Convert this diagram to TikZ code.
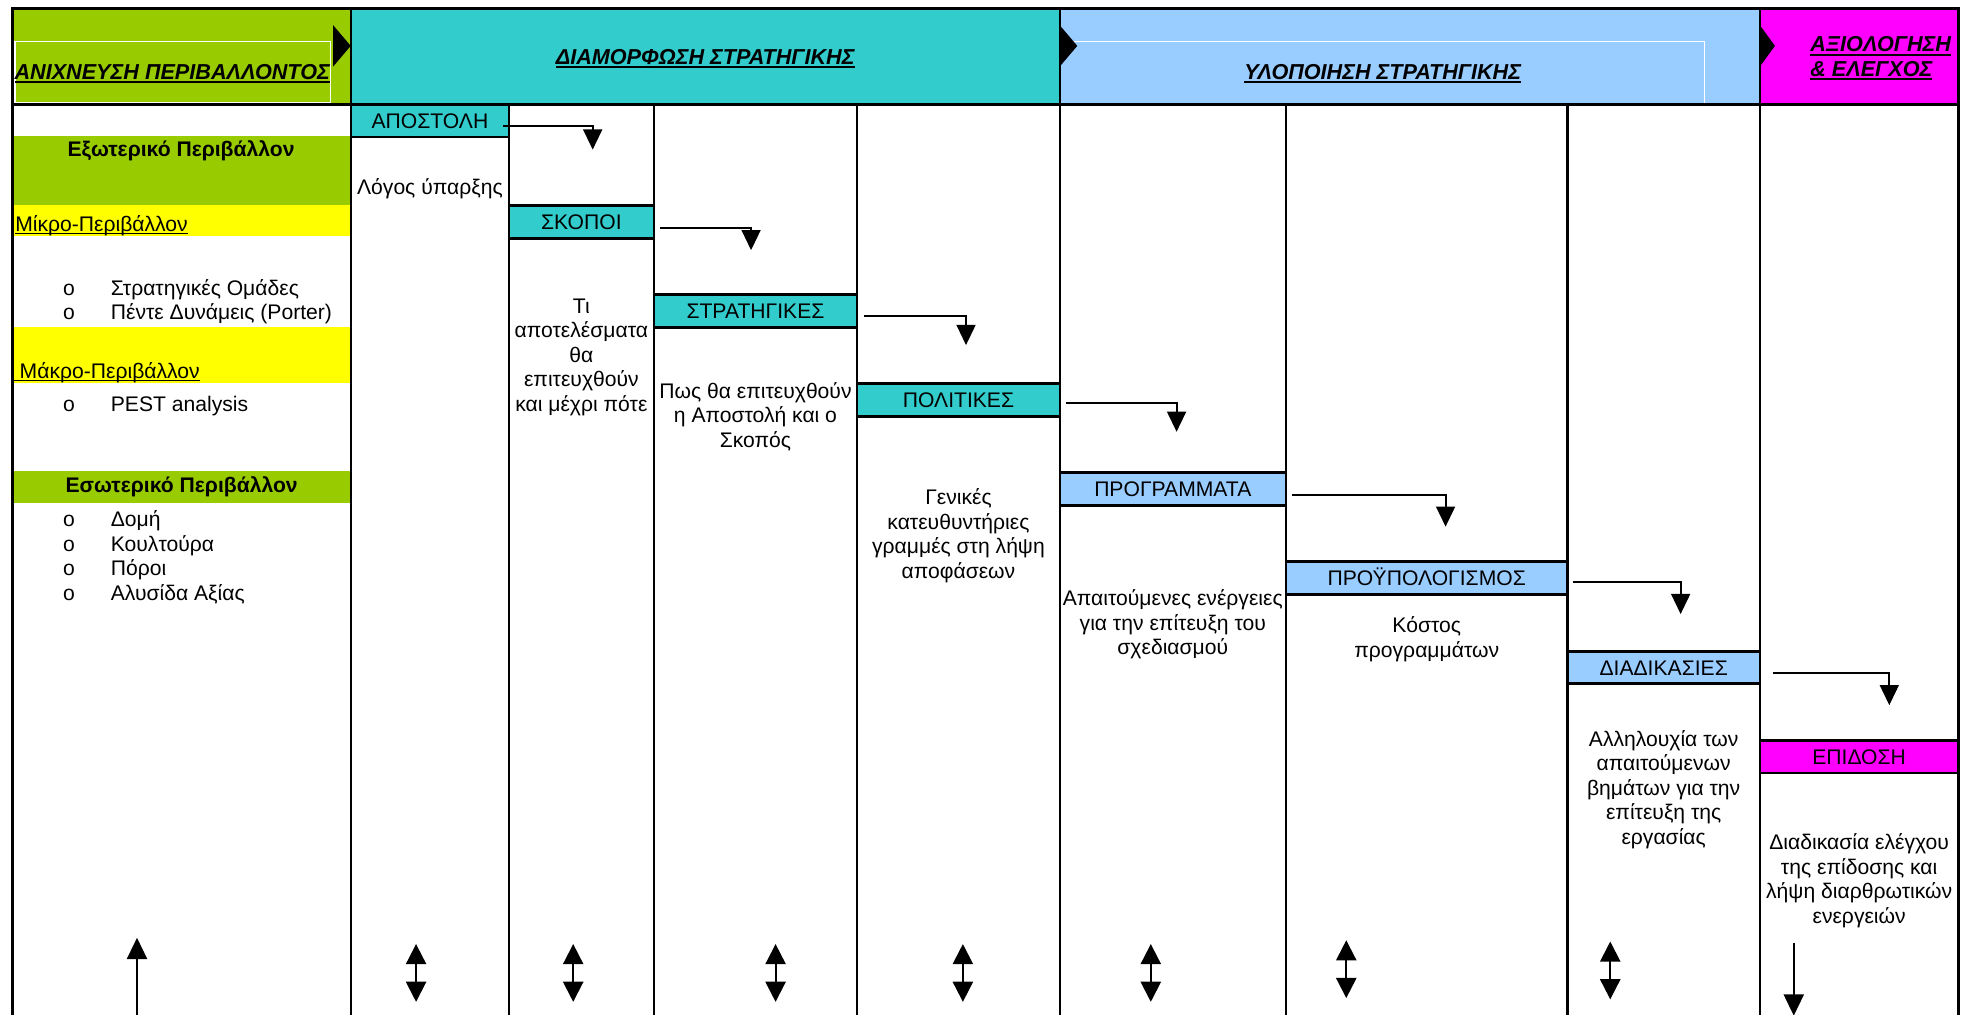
\documentclass[tikz,border=0pt]{standalone}
\usepackage{fontspec}
\setmainfont{Liberation Sans}
\usetikzlibrary{arrows.meta}

\definecolor{envgreen}{HTML}{99CC00}
\definecolor{stratcyan}{HTML}{33CCCC}
\definecolor{implblue}{HTML}{99CCFF}
\definecolor{evalmag}{HTML}{FF00FF}
\definecolor{bandyellow}{HTML}{FFFF00}

% underlines drawn as rules just below the baseline
\newsavebox\ulbox
\newcommand\ulined[1]{\sbox\ulbox{#1}\rlap{\rule[-2.4pt]{\wd\ulbox}{1.1pt}}\usebox\ulbox}
\newcommand\hdul[1]{\sbox\ulbox{#1}\rlap{\rule[-3.4pt]{\wd\ulbox}{1.7pt}}\usebox\ulbox}
\newcommand\bitem[1]{\makebox[38pt][l]{o}#1}

\begin{document}
\begin{tikzpicture}[x=1pt,y=-1pt,
  body/.style={font=\fontsize{16.8}{19.5}\selectfont, inner sep=0pt},
  bodybold/.style={font=\fontsize{16.8}{19.5}\selectfont\bfseries, inner sep=0pt},
  hdr/.style={font=\fontsize{17.2}{19.5}\selectfont\bfseries\itshape, inner sep=0pt},
  stagebox/.style={body, minimum height=25.5pt, text height=12pt, text depth=0pt},
  boxrule/.style={line width=2.2pt},
  colrule/.style={line width=1.8pt},
  frame/.style={line width=2.6pt},
  outline/.style={draw=white, line width=1.2pt},
  chevron/.style={fill=black},
  elbow/.style={line width=1.6pt, -{Triangle[width=15pt,length=16pt]}},
  upline/.style={line width=1.6pt, -{Triangle[width=16pt,length=17pt]}},
  updown/.style={line width=1.6pt, {Triangle[width=16pt,length=16pt]}-{Triangle[width=16pt,length=16pt]}}]

\useasboundingbox (0,0) rectangle (1568,807);
\clip (0,0) rectangle (1568,807);
\fill[white] (0,0) rectangle (1568,807);

% header bands
\fill[envgreen]  (10,7)   rectangle (279,83);
\fill[stratcyan] (279,7)  rectangle (843,83);
\fill[implblue]  (843,7)  rectangle (1400,83);
\fill[evalmag]   (1400,7) rectangle (1558,83);
\draw[outline] (12,33) rectangle (263,81.6);
\draw[outline] (845,33) -- (1356,33) -- (1356,82);

% environment column bands
\fill[envgreen]   (10,108) rectangle (279,163);
\fill[bandyellow] (10,163) rectangle (279,188);
\fill[bandyellow] (10,260) rectangle (279,305);
\fill[envgreen]   (10,375) rectangle (279,400);

% stage boxes
\node[stagebox, fill=stratcyan, minimum width=126pt] (apostoli) at (342,96) {ΑΠΟΣΤΟΛΗ};
\node[stagebox, fill=stratcyan, minimum width=115pt] (skopoi) at (462.5,176.5) {ΣΚΟΠΟΙ};
\node[stagebox, fill=stratcyan, minimum width=162pt] (strategikes) at (601,247.5) {ΣΤΡΑΤΗΓΙΚΕΣ};
\node[stagebox, fill=stratcyan, minimum width=161pt] (politikes) at (762.5,318.3) {ΠΟΛΙΤΙΚΕΣ};
\node[stagebox, fill=implblue, minimum width=180pt] (programmata) at (933,389) {ΠΡΟΓΡΑΜΜΑΤΑ};
\node[stagebox, fill=implblue, minimum width=224pt] (budget) at (1135,459.7) {ΠΡΟΫΠΟΛΟΓΙΣΜΟΣ};
\node[stagebox, fill=implblue, minimum width=153pt] (diadikasies) at (1323.5,531) {ΔΙΑΔΙΚΑΣΙΕΣ};
\node[stagebox, fill=evalmag, minimum width=158pt] (epidosi) at (1479,602) {ΕΠΙΔΟΣΗ};

\foreach \n in {apostoli,skopoi,strategikes,politikes,programmata,budget,diadikasies,epidosi}
  \draw[boxrule] (\n.north west) -- (\n.north east) (\n.south west) -- (\n.south east);

% grid lines
\foreach \x in {405,520,682,1023,1247}
  \draw[colrule] (\x,83) -- (\x,812);
\foreach \x in {279,843,1400}
  \draw[colrule] (\x,7) -- (\x,812);
\draw[frame] (10,812) -- (10,7) -- (1558,7) -- (1558,812);
\draw[frame] (10,83) -- (1558,83);

% chevrons between the phases
\fill[chevron] (265,20) -- (279,36.5) -- (265,53) -- cycle;
\fill[chevron] (843,20) -- (857,36.5) -- (843,53) -- cycle;
\fill[chevron] (1400,20) -- (1412,36.5) -- (1400,53) -- cycle;

% phase titles
\node[hdr, anchor=base] (hscan) at (137,63) {\hdul{ΑΝΙΧΝΕΥΣΗ ΠΕΡΙΒΑΛΛΟΝΤΟΣ}};
\node[hdr, anchor=base] (hform) at (561,51) {\hdul{ΔΙΑΜΟΡΦΩΣΗ ΣΤΡΑΤΗΓΙΚΗΣ}};
\node[hdr, anchor=base] (himpl) at (1100,63) {\hdul{ΥΛΟΠΟΙΗΣΗ ΣΤΡΑΤΗΓΙΚΗΣ}};
\node[hdr, anchor=base west] (heval) at (1440,41)
  {\begin{tabular}[t]{@{}l@{}}\hdul{ΑΞΙΟΛΟΓΗΣΗ}\\\hdul{\& ΕΛΕΓΧΟΣ}\end{tabular}};

% environment column
\node[bodybold, anchor=base] (extenv) at (144,124.5) {Εξωτερικό Περιβάλλον};
\node[body, anchor=base west] (micro) at (12,184) {\ulined{Μίκρο-Περιβάλλον}};
\node[body, anchor=base west] (microlist) at (50,235)
  {\begin{tabular}[t]{@{}l@{}}\bitem{Στρατηγικές Ομάδες}\\\bitem{Πέντε Δυνάμεις (Porter)}\end{tabular}};
\node[body, anchor=base west] (macro) at (11,301) {\ulined{\hspace{4.5pt}Μάκρο-Περιβάλλον}};
\node[body, anchor=base west] (macrolist) at (50,327) {\bitem{PEST analysis}};
\node[bodybold, anchor=base] (intenv) at (144.5,392) {Εσωτερικό Περιβάλλον};
\node[body, anchor=base west] (intlist) at (50,419)
  {\begin{tabular}[t]{@{}l@{}}\bitem{Δομή}\\\bitem{Κουλτούρα}\\\bitem{Πόροι}\\\bitem{Αλυσίδα Αξίας}\end{tabular}};

% stage descriptions
\node[body, anchor=base] (reason) at (342,155) {Λόγος ύπαρξης};
\node[body, anchor=base] (goalstxt) at (462.5,249.3)
  {\begin{tabular}[t]{@{}c@{}}Τι\\αποτελέσματα\\θα\\επιτευχθούν\\και μέχρι πότε\end{tabular}};
\node[body, anchor=base] (strattxt) at (601,317)
  {\begin{tabular}[t]{@{}c@{}}Πως θα επιτευχθούν\\η Αποστολή και ο\\Σκοπός\end{tabular}};
\node[body, anchor=base] (poltxt) at (762.5,401.5)
  {\begin{tabular}[t]{@{}c@{}}Γενικές\\κατευθυντήριες\\γραμμές στη λήψη\\αποφάσεων\end{tabular}};
\node[body, anchor=base] (progtxt) at (933,482)
  {\begin{tabular}[t]{@{}c@{}}Απαιτούμενες ενέργειες\\για την επίτευξη του\\σχεδιασμού\end{tabular}};
\node[body, anchor=base] (budgettxt) at (1135,503.5)
  {\begin{tabular}[t]{@{}c@{}}Κόστος\\προγραμμάτων\end{tabular}};
\node[body, anchor=base] (proctxt) at (1323.5,593.5)
  {\begin{tabular}[t]{@{}c@{}}Αλληλουχία των\\απαιτούμενων\\βημάτων για την\\επίτευξη της\\εργασίας\end{tabular}};
\node[body, anchor=base] (perftxt) at (1479,676)
  {\begin{tabular}[t]{@{}c@{}}Διαδικασία ελέγχου\\της επίδοσης και\\λήψη διαρθρωτικών\\ενεργειών\end{tabular}};

% cascade arrows from each stage to the next
\coordinate (tipA) at (471.5,119);
\coordinate (tipB) at (597.5,199);
\coordinate (tipC) at (768.5,274.5);
\coordinate (tipD) at (936,343.5);
\coordinate (tipE) at (1150,419);
\coordinate (tipF) at (1337,488.5);
\coordinate (tipG) at (1503,561);
\draw[elbow] ([shift={(-5,4)}]apostoli.east) -| (tipA);
\draw[elbow] ([shift={(5,4.5)}]skopoi.east) -| (tipB);
\draw[elbow] ([shift={(5,3.5)}]strategikes.east) -| (tipC);
\draw[elbow] ([shift={(5,2)}]politikes.east) -| (tipD);
\draw[elbow] ([shift={(5,5)}]programmata.east) -| (tipE);
\draw[elbow] ([shift={(4,3.3)}]budget.east) -| (tipF);
\draw[elbow] ([shift={(10,4.5)}]diadikasies.east) -| (tipG);

% feedback arrows along the bottom
\coordinate (envfoot) at (109,812);
\coordinate (envtip) at (109,746);
\draw[upline] (envfoot) -- (envtip);
\foreach \x/\a/\b [count=\i] in {331/751/797,456/751/797,617/751/797,766/751/797,915.5/751/797,1071/748/794,1281/749/795}{
  \coordinate (fbtop\i) at (\x,\a);
  \coordinate (fbbot\i) at (\x,\b);
  \draw[updown] (fbtop\i) -- (fbbot\i);
}
\coordinate (evaltop) at (1427,750);
\coordinate (evaltip) at (1427,808);
\draw[upline] (evaltop) -- (evaltip);
\end{tikzpicture}
\end{document}
